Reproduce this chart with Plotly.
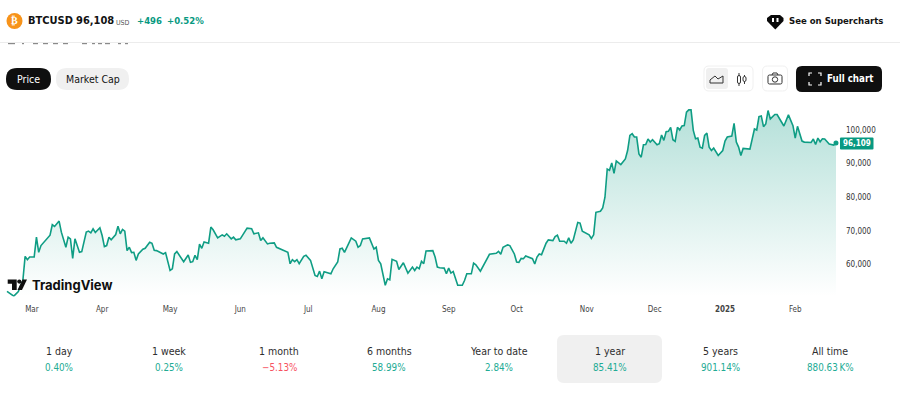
import pandas as pd
import plotly.graph_objects as go

W, H = 900, 393
FONT = "DejaVu Sans Condensed, DejaVu Sans, sans-serif"
GREEN = "#0f9d84"
UP = "#22ab94"
DOWN = "#f7525f"
DARK = "#131313"

START = "2024-02-19"
day_offsets = [0,3,5,7,8,9,10,12,13,14,15,18,19,20,21,23,24,26,27,28,29,30,32,33,35,36,37,38,39,41,42,43,44,45,46,48,49,50,51,52,53,54,55,56,57,58,60,61,63,64,65,66,69,70,72,73,74,75,76,78,80,81,82,83,84,85,86,87,89,90,91,93,95,96,97,99,100,101,103,105,106,108,109,111,112,113,115,116,118,119,122,124,125,126,127,128,129,
131,132,134,136,137,138,139,140,143,144,146,147,148,149,151,152,154,155,156,157,160,161,162,163,164,165,166,167,168,169,170,172,173,175,177,179,180,181,182,183,184,185,188,189,190,191,193,194,195,196,197,199,201,202,203,205,206,207,209,212,213,216,217,218,219,221,222,224,225,226,227,228,229,232,233,234,235,236,238,239,241,242,243,244,246,247,248,249,250,252,253,254,257,258,259,260,262,
263,264,265,266,267,268,269,271,273,274,275,276,277,278,279,280,281,282,283,284,285,287,288,289,290,291,292,293,294,295,296,297,298,299,300,301,302,303,304,305,306,307,308,309,310,311,312,314,316,317,318,320,321,322,323,324,325,328,330,331,332,333,334,335,336,337,339,340,342,343,345,347,348,349,351,352,355,356,357,358,359,360,361,363,365,366]
prices_k = [52.0,50.55,51.9,55.2,62.4,61.4,62.2,62.2,68.1,63.6,65.6,67.9,68.7,71.8,71.3,72.9,69.6,65.1,68.1,67.6,61.8,67.6,63.6,63.8,69.6,69.9,69.4,70.6,69.5,70.9,68.6,65.3,65.6,68.1,67.3,68.9,71.4,69.1,70.4,69.9,64.1,65.1,63.5,63.6,61.2,63.1,64.5,64.8,66.6,66.3,64.2,64.1,63.1,63.5,58.2,58.7,63.1,63.8,62.7,60.8,62.8,60.6,60.8,62.7,61.4,66.0,64.8,66.7,66.3,71.1,70.3,67.9,68.8,68.4,69.1,67.6,68.1,67.3,67.6,69.6,70.8,70.6,69.1,69.4,67.1,67.9,66.1,66.3,66.4,65.1,64.3,63.6,60.2,61.4,60.8,61.4,60.2,
62.4,62.7,61.2,56.7,56.4,58.0,55.7,57.8,57.2,58.7,60.7,64.6,64.8,63.6,66.7,67.9,66.9,65.1,65.6,67.6,67.9,66.1,64.6,65.1,61.2,60.2,57.2,53.8,55.7,55.4,61.5,60.9,58.5,60.5,57.4,59.2,58.2,59.2,58.7,60.9,60.2,64.0,64.1,62.2,59.2,59.0,58.9,57.2,58.9,57.4,57.9,53.8,53.8,55.2,57.2,57.2,60.4,59.9,58.0,61.7,63.0,63.3,63.9,63.0,65.1,65.8,65.6,63.1,60.7,60.6,61.8,61.7,62.5,61.7,60.1,62.2,63.1,62.9,66.3,67.3,67.1,68.3,68.7,66.9,66.9,66.3,67.9,66.3,67.3,72.5,72.3,69.9,68.8,67.7,68.8,75.5,75.8,
76.8,80.0,88.4,88.0,90.2,87.1,90.8,89.7,91.4,93.9,98.4,98.9,97.9,97.9,92.9,91.9,95.6,95.7,97.3,96.4,97.1,95.6,95.9,98.5,96.9,99.5,99.6,100.8,97.1,96.6,100.8,100.0,101.2,101.3,105.3,106.0,106.0,99.9,97.4,97.6,94.9,94.6,98.4,99.1,94.9,93.9,94.6,92.4,93.9,96.7,97.9,98.2,102.0,96.4,94.9,92.4,94.5,94.3,100.3,100.0,104.0,104.2,101.0,101.8,105.8,103.3,104.6,104.6,102.3,101.2,104.5,101.3,97.6,101.1,96.7,96.4,96.3,97.3,95.7,97.6,96.5,97.4,97.3,95.8,95.5,96.109]

y_ticks = [60000, 70000, 80000, 90000, 100000]
x_tick_dates = ["2024-03-01","2024-04-01","2024-05-01","2024-06-01","2024-07-01","2024-08-01","2024-09-01","2024-10-01","2024-11-01","2024-12-01","2025-01-01","2025-02-01"]
x_tick_labels = ["Mar","Apr","May","Jun","Jul","Aug","Sep","Oct","Nov","Dec","<b>2025</b>","Feb"]
stat_labels = ["1 day","1 week","1 month","6 months","Year to date","1 year","5 years","All time"]
stat_values = ["0.40%","0.25%","\u22125.13%","58.99%","2.84%","85.41%","901.14%","880.63\u2009K%"]

dates = pd.Timestamp(START) + pd.to_timedelta(day_offsets, unit="D")
prices = [p * 1000 for p in prices_k]

fig = go.Figure()
fig.add_trace(go.Scatter(
    x=dates, y=prices, mode="lines", line=dict(color=GREEN, width=1.6),
    fill="tozeroy",
    fillgradient=dict(type="vertical", start=50450, stop=106000,
                      colorscale=[[0, "rgba(8,153,129,0.0)"], [1, "rgba(8,153,129,0.30)"]]),
    hoverinfo="skip", showlegend=False))
fig.add_trace(go.Scatter(
    x=dates[-1:], y=prices[-1:], mode="markers",
    marker=dict(color=GREEN, size=5), hoverinfo="skip", showlegend=False))


def fx(x):
    return x / W


def fy(y):
    return 1 - y / H


def path(cmds):
    out = []
    for c in cmds:
        if isinstance(c, str):
            out.append(c)
        else:
            out.append(f"{fx(c[0]):.5f},{fy(c[1]):.5f}")
    return " ".join(out)


def poly(pts, fill=None, line=None, lw=1.0, close=True):
    cmds = ["M", pts[0]]
    for p in pts[1:]:
        cmds += ["L", p]
    if close:
        cmds.append("Z")
    fig.add_shape(type="path", xref="paper", yref="paper", path=path(cmds),
                  fillcolor=fill or "rgba(0,0,0,0)",
                  line=dict(color=line or "rgba(0,0,0,0)", width=lw if line else 0))


def rrect(x0, y0, x1, y1, r, fill=None, line=None):
    cmds = ["M", (x0 + r, y0), "L", (x1 - r, y0), "Q", (x1, y0), (x1, y0 + r),
            "L", (x1, y1 - r), "Q", (x1, y1), (x1 - r, y1), "L", (x0 + r, y1),
            "Q", (x0, y1), (x0, y1 - r), "L", (x0, y0 + r), "Q", (x0, y0), (x0 + r, y0), "Z"]
    fig.add_shape(type="path", xref="paper", yref="paper", path=path(cmds),
                  fillcolor=fill or "rgba(0,0,0,0)",
                  line=dict(color=line or "rgba(0,0,0,0)", width=1 if line else 0))


def circle(cx, cy, r, fill=None, line=None, lw=1.0):
    fig.add_shape(type="circle", xref="paper", yref="paper",
                  x0=fx(cx - r), x1=fx(cx + r), y0=fy(cy + r), y1=fy(cy - r),
                  fillcolor=fill or "rgba(0,0,0,0)",
                  line=dict(color=line or "rgba(0,0,0,0)", width=lw if line else 0))


def txt(x, y, s, size=10, color=DARK, anchor="center", family=FONT):
    fig.add_annotation(xref="paper", yref="paper", x=fx(x), y=fy(y), text=s,
                       showarrow=False, xanchor=anchor, yanchor="middle",
                       font=dict(size=size, color=color, family=family),
                       borderpad=0, borderwidth=0)


# bottoms of the heading glyphs that stick out below the sticky header
for a, b in [(8, 15), (22, 24), (33, 38), (43, 48), (53, 58), (63, 68),
             (82, 87), (92, 95), (98, 102), (105, 110), (118, 121), (125, 128)]:
    poly([(a, 42.8), (b, 42.8), (b, 44.2), (a, 44.2)], fill="#8a8a8a")
fig.add_shape(type="line", xref="paper", yref="paper", x0=0, x1=1, y0=fy(42.5), y1=fy(42.5),
              line=dict(color="#ececec", width=1))

# header
circle(14.5, 21, 8, fill="#f7931a")
txt(14.5, 21, "<b>\u20bf</b>", 10, "#ffffff", family="DejaVu Sans")
txt(27.5, 21, "<b>BTCUSD</b>", 11, DARK, "left")
txt(75.5, 21, "<b>96,108</b>", 11, DARK, "left")
txt(115.5, 22.5, "USD", 7, "#555555", "left")
txt(137, 21, "<b>+496</b>", 9.5, "#089981", "left")
txt(166.5, 21, "<b>+0.52%</b>", 9.5, "#089981", "left")

poly([(767, 18), (771, 15), (780, 15), (783.5, 18), (783.5, 21), (775.3, 29.5), (767, 21)], fill="#0a0a0a")
poly([(772, 18), (774, 18), (774, 22), (772, 22)], fill="#ffffff")
poly([(776.5, 18), (778.5, 18), (778.5, 22), (776.5, 22)], fill="#ffffff")
txt(788.5, 21, "<b>See on Supercharts</b>", 9.5, DARK, "left")

# pills
rrect(6, 68, 51, 90, 11, fill="#0f0f0f")
txt(28.5, 79, "Price", 10.5, "#ffffff")
rrect(56, 68, 129, 90, 11, fill="#f0f0f0")
txt(92.5, 79, "Market Cap", 10.5, DARK)

# toolbar
rrect(704, 66, 753, 91, 5, fill="#ffffff", line="#f0f0f0")
rrect(706, 68, 728, 89, 3, fill="#f0f0f0")
poly([(710, 83), (710, 80), (715, 76), (718, 79), (723, 76), (723, 83)], line="#333333", lw=1)
poly([(739, 73), (739, 86)], line="#333333", lw=1, close=False)
poly([(744.5, 75), (744.5, 84)], line="#333333", lw=1, close=False)
rrect(737.5, 75.5, 740.5, 83.5, 1.5, fill="#ffffff", line="#333333")
rrect(743, 76.5, 746, 81.5, 1.5, fill="#ffffff", line="#333333")
rrect(762.5, 66, 787.5, 91, 5, fill="#ffffff", line="#f0f0f0")
rrect(768, 75, 782, 84, 1.5, line="#333333")
poly([(772, 75), (773, 73), (777, 73), (778, 75)], line="#333333", lw=1, close=False)
circle(775, 79.5, 2.7, line="#333333", lw=1)
rrect(796, 66, 882, 92, 6, fill="#0f0f0f")
for a, b, c in [((809, 76), (809, 73), (812, 73)), ((818, 73), (821, 73), (821, 76)),
                ((821, 82), (821, 85), (818, 85)), ((812, 85), (809, 85), (809, 82))]:
    poly([a, b, c], line="#ffffff", lw=1.2, close=False)
txt(827, 79, "<b>Full chart</b>", 9.7, "#ffffff", "left")

# watermark
poly([(7.7, 279.5), (16.7, 279.5), (16.7, 290), (12, 290), (12, 283.7), (7.7, 283.7)], fill="#0f0f0f")
circle(19.3, 281.6, 2.1, fill="#0f0f0f")
poly([(22.5, 279.5), (27, 279.5), (22, 290), (17.5, 290)], fill="#0f0f0f")
txt(32, 285, "<b>TradingView</b>", 13, "#0f0f0f", "left", family="Inter, Roboto, sans-serif")

# price tag
rrect(840, 137.5, 873.5, 149.5, 1, fill="#089981")
fig.add_annotation(xref="paper", yref="y", x=fx(857), y=prices[-1], xanchor="center", yanchor="middle",
                   text="<b>96,109</b>", showarrow=False, font=dict(size=8, color="#ffffff", family=FONT))

# stats
rrect(557, 335, 662, 383, 7, fill="#f0f0f0")
centers = [59, 169, 279, 389, 499, 610, 720, 830]
for cx, lab, val in zip(centers, stat_labels, stat_values):
    txt(cx, 351, lab, 10.5, "#2e2e2e")
    txt(cx, 367, val, 9.8, DOWN if val.startswith("\u2212") else UP)

# axes: 2.265 px per day, day 0 at px 7; 33.6 px per 10,000, 100,000 at px 129.5
d0 = pd.Timestamp(START)
x_lo = d0 + pd.Timedelta(days=-7 / 2.265)
x_hi = d0 + pd.Timedelta(days=(840 - 7) / 2.265)
y_at = lambda py: 100000 - (py - 129.5) / 33.6 * 10000
fig.update_layout(
    width=W, height=H, autosize=False,
    margin=dict(l=0, r=0, t=0, b=0),
    paper_bgcolor="#ffffff", plot_bgcolor="rgba(0,0,0,0)",
    font=dict(family=FONT, color="#333333"),
    hovermode=False,
    xaxis=dict(type="date", domain=[0, 840 / W], range=[x_lo, x_hi], tickmode="array",
               tickvals=x_tick_dates, ticktext=x_tick_labels, showgrid=False, zeroline=False,
               showline=False, ticks="", ticklabelstandoff=6, tickfont=dict(size=8, color="#444444"),
               fixedrange=True),
    yaxis=dict(domain=[fy(296.5), fy(100.5)], range=[y_at(296), y_at(100)], side="right",
               tickmode="array", tickvals=y_ticks, ticktext=[f"{v:,}" for v in y_ticks],
               showgrid=False, zeroline=False, showline=False, ticks="", ticklabelstandoff=5,
               tickfont=dict(size=8, color="#333333"), fixedrange=True),
)
fig.write_html("out.html", config={"displayModeBar": False},
               post_script="document.body.style.margin='0';document.body.style.overflow='hidden';")
